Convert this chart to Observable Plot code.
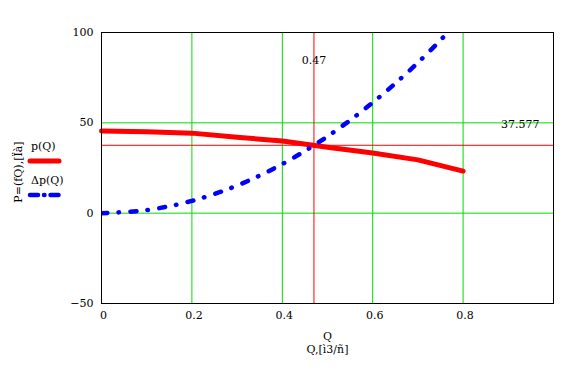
<!DOCTYPE html>
<html>
<head>
<meta charset="utf-8">
<script src="https://cdn.jsdelivr.net/npm/d3@7"></script>
<script src="https://cdn.jsdelivr.net/npm/@observablehq/plot@0.6"></script>
<style>
  body { margin: 0; background: white; }
</style>
</head>
<body>
<div id="chart"></div>
<script>
const Q  = [0, 0.1, 0.2, 0.3, 0.4, 0.5, 0.6, 0.7, 0.8];
const p  = [45.5, 45, 44.3, 42, 40, 36.5, 33.3, 29.5, 23.3];
const dp = [0, 1.7, 6.8, 15.3, 27.2, 42.5, 61.2, 83.3, 108.8];
const xTicks = [0, 0.2, 0.4, 0.6, 0.8];
const yTicks = [-50, 0, 50, 100];
const greenX = [0.2, 0.4, 0.6, 0.8];
const greenY = [0, 50];
const Qcross = 0.47;
const Pcross = 37.577;
const seriesNames = ["p(Q)", "\u0394p(Q)"];

const rows = Q.map((q, i) => ({Q: q, p: p[i], dp: dp[i]}));
const font = "DejaVu Serif";

const chart = Plot.plot({
  width: 566,
  height: 367,
  marginLeft: 101,
  marginRight: 13,
  marginTop: 32,
  marginBottom: 64,
  style: {fontFamily: font, fontSize: "11px", background: "white", color: "black"},
  x: {domain: [0, 1], label: null},
  y: {domain: [-50, 100], label: null},
  marks: [
    Plot.ruleX(greenX, {stroke: "#00dd00", strokeWidth: 1}),
    Plot.ruleY(greenY, {stroke: "#00dd00", strokeWidth: 1}),
    Plot.ruleX([Qcross], {stroke: "#ff0000", strokeWidth: 1}),
    Plot.ruleY([Pcross], {stroke: "#ff0000", strokeWidth: 1}),
    Plot.line(rows, {x: "Q", y: "p", stroke: "#ff0000", strokeWidth: 5, strokeLinecap: "round", strokeLinejoin: "round"}),
    Plot.line(rows, {x: "Q", y: "dp", stroke: "#0000ff", strokeWidth: 4.5, curve: "catmull-rom",
      strokeDasharray: "6,11,0.5,11.5", strokeLinecap: "round", clip: true}),
    Plot.text([Qcross], {x: d => d, y: 84.5, text: d => String(d), fill: "black"}),
    Plot.text([Pcross], {x: 0.969, y: 49.2, text: d => String(d), textAnchor: "end", fill: "black"}),
    Plot.axisX(xTicks, {tickSize: 0, tickPadding: 8, dx: 2, tickFormat: d => String(d), label: null}),
    Plot.axisY(yTicks, {tickSize: 0, tickPadding: 8, label: null}),
    Plot.text(["Q\nQ,[\u00ec3/\u00f1]"], {frameAnchor: "bottom", dy: 27, lineAnchor: "top", lineHeight: 1.18, text: d => d, fill: "black"}),
    Plot.text(["P=(fQ),[\u00cf\u00e0]"], {frameAnchor: "left", dx: -83, dy: 4, rotate: -90, textAnchor: "middle", lineAnchor: "middle", text: d => d, fill: "black"}),
    Plot.frame({stroke: "black", strokeWidth: 1})
  ]
});

document.getElementById("chart").appendChild(chart);

// legend
const svg = d3.select(chart);
const lg = svg.append("g").attr("font-family", font).attr("font-size", "11px").attr("text-anchor", "start");
lg.append("text").attr("x", 31).attr("y", 150).attr("text-anchor", "start").text(seriesNames[0]);
lg.append("line").attr("x1", 30).attr("x2", 59).attr("y1", 161).attr("y2", 161)
  .attr("stroke", "#ff0000").attr("stroke-width", 5).attr("stroke-linecap", "round");
lg.append("text").attr("x", 31).attr("y", 184).attr("text-anchor", "start").text(seriesNames[1]);
lg.append("line").attr("x1", 30).attr("x2", 59).attr("y1", 195).attr("y2", 195)
  .attr("stroke", "#0000ff").attr("stroke-width", 4.5).attr("stroke-linecap", "round")
  .attr("stroke-dasharray", "8,6,0.5,6");
</script>
</body>
</html>
